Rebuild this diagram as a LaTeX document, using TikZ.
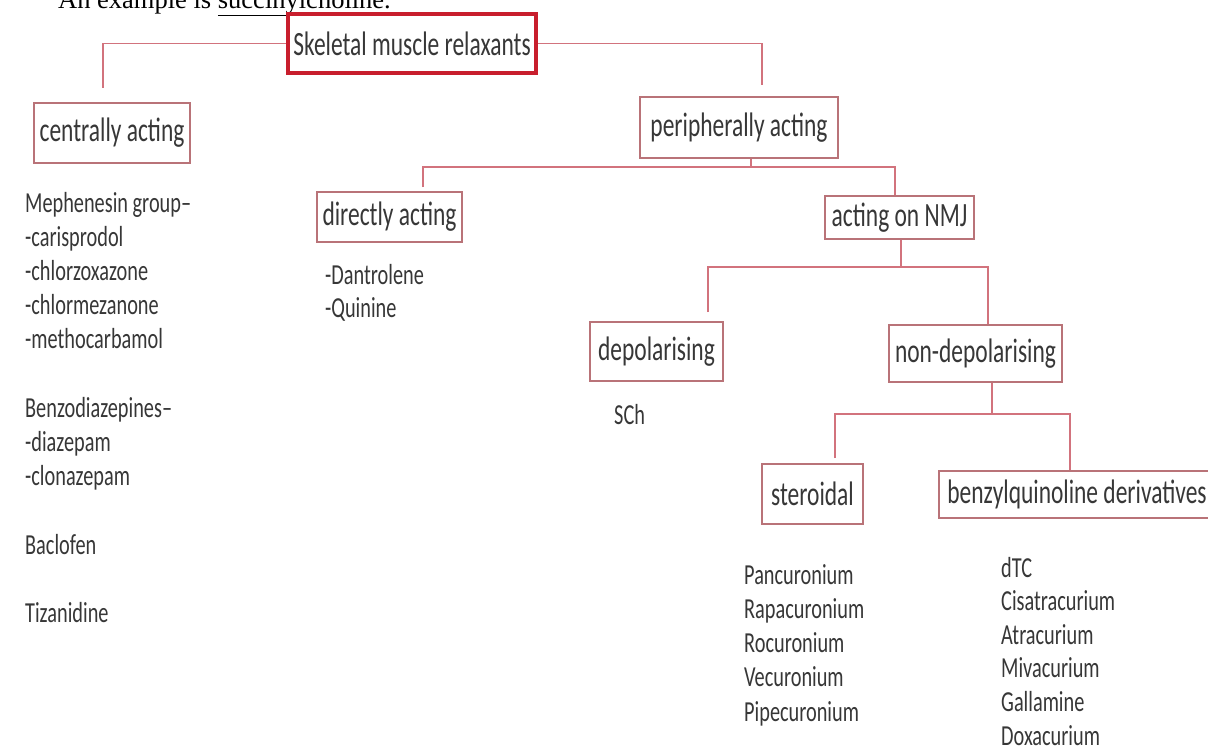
\documentclass[tikz,border=0pt]{standalone}
\usepackage{fontspec}
\setmainfont{Carlito}
\newfontfamily\dfont[FakeStretch=0.69]{Carlito}
\newfontfamily\lfont[FakeStretch=0.70]{Carlito}
\newfontfamily\serfont{Liberation Serif}
\definecolor{txt}{RGB}{55,55,55}
\definecolor{edge}{RGB}{210,115,125}
\definecolor{boxline}{RGB}{185,115,120}
\definecolor{rootred}{RGB}{200,30,45}
\tikzset{
  box/.style={draw=boxline, line width=1.2pt, inner sep=0pt, fill=white,
    font=\dfont\fontsize{34}{40}\selectfont, text=txt},
  rootbox/.style={box, draw=rootred, line width=4.5pt},
  conn/.style={draw=edge, line width=1.5pt},
  item/.style={anchor=base west, inner sep=0pt,
    font=\lfont\fontsize{29}{34}\selectfont, text=txt}
}
\begin{document}
\begin{tikzpicture}[x=1pt,y=-1pt]
\useasboundingbox (0,0) rectangle (1208,750);
\clip (0,0) rectangle (1208,750);
\fill[white] (0,0) rectangle (1208,750);

% clipped sentence at the top
\node[anchor=base west, inner sep=0pt, font=\serfont\fontsize{26.5}{30}\selectfont] (topline) at (58,8)
  {An example is \underline{succinylcholine}.};

% boxes
\node[rootbox, minimum width=248pt, minimum height=59pt] (root) at (412,43.5) {Skeletal muscle relaxants};
\node[box, minimum width=156pt, minimum height=60pt] (cen) at (112,133) {centrally acting};
\node[box, minimum width=198pt, minimum height=61pt] (per) at (739,127.5) {peripherally acting};
\node[box, minimum width=145pt, minimum height=50pt] (dir) at (389.5,217) {directly acting};
\node[box, minimum width=149pt, minimum height=43pt] (nmj) at (899.5,217.5) {acting on NMJ};
\node[box, minimum width=133pt, minimum height=59pt] (dep) at (656.5,351.5) {depolarising};
\node[box, minimum width=173pt, minimum height=57pt] (ndep) at (975.5,353.5) {non-depolarising};
\node[box, minimum width=101pt, minimum height=60pt] (ster) at (812.5,494) {steroidal};
\node[box, minimum width=276pt, minimum height=47pt] (benz) at (1077,494.5) {benzylquinoline derivatives};

% connectors
\coordinate (cL) at (103,88);
\coordinate (cR) at (762,85);
\draw[conn] (root.west) -| (cL);
\draw[conn] (root.east) -| (cR);

\coordinate (pf) at (751,167);
\coordinate (cD) at (423,187);
\draw[conn] ([xshift=12pt]per.south) -- (pf);
\draw[conn] (cD) |- (pf) -| ([xshift=-4.5pt]nmj.north);

\coordinate (nf) at (901,267);
\coordinate (cDep) at (708,312);
\draw[conn] ([xshift=1.5pt]nmj.south) -- (nf);
\draw[conn] (cDep) |- (nf) -| ([xshift=12.5pt]ndep.north);

\coordinate (sf) at (992,414);
\coordinate (cSt) at (835,458);
\draw[conn] ([xshift=16.5pt]ndep.south) -- (sf);
\draw[conn] (cSt) |- (sf) -| ([xshift=-7pt]benz.north);

% lists
\foreach \t/\k in {Mephenesin group–/0, -carisprodol/1, -chlorzoxazone/2, -chlormezanone/3,
  -methocarbamol/4, Benzodiazepines–/6, -diazepam/7, -clonazepam/8, Baclofen/10, Tizanidine/12}
  \node[item] (c\k) at (25,{212+34.2*\k}) {\t};

\node[item] (d1) at (325,284) {-Dantrolene};
\node[item] (d2) at (325,317) {-Quinine};

\node[item] (sch) at (614,424) {SCh};

\foreach \t/\k in {Pancuronium/0, Rapacuronium/1, Rocuronium/2, Vecuronium/3, Pipecuronium/4}
  \node[item] (s\k) at (744,{584+34.25*\k}) {\t};

\foreach \t/\k in {dTC/0, Cisatracurium/1, Atracurium/2, Mivacurium/3, Gallamine/4, Doxacurium/5}
  \node[item] (b\k) at (1001,{577+33.6*\k}) {\t};
\end{tikzpicture}
\end{document}
